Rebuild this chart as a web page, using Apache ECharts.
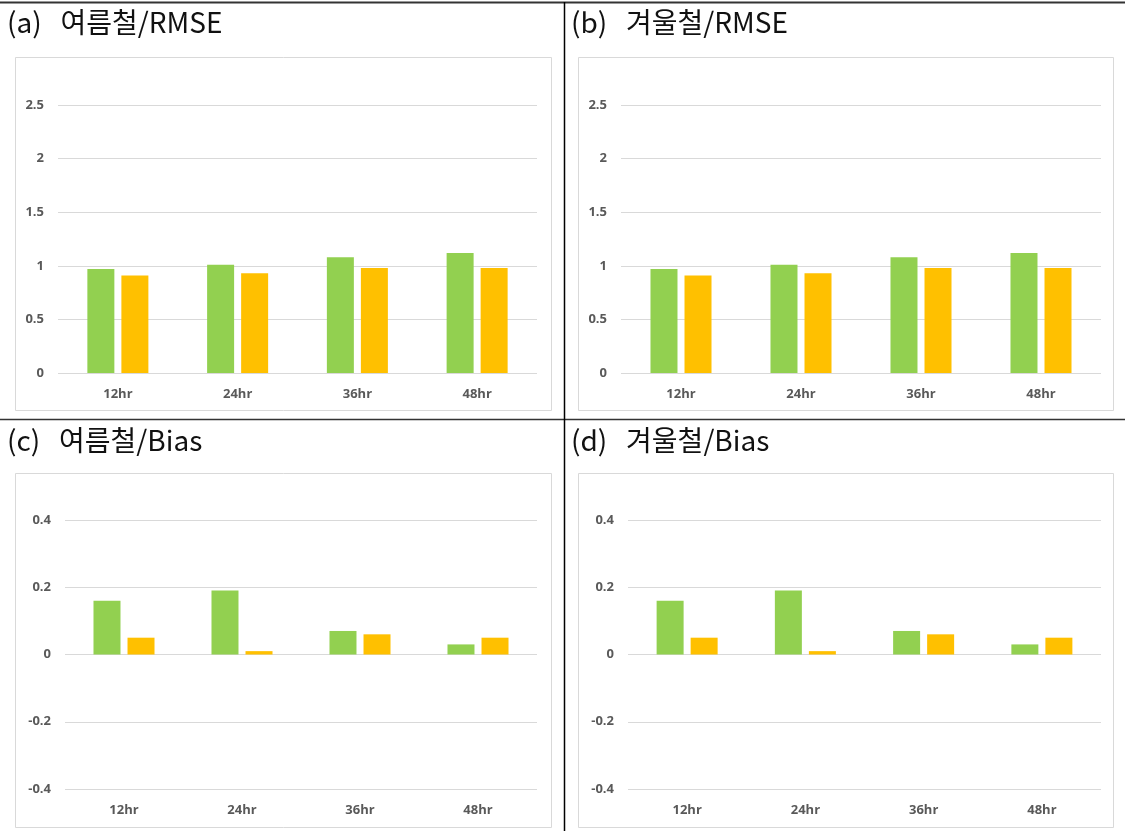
<!DOCTYPE html>
<html>
<head>
<meta charset="utf-8">
<title>RMSE / Bias</title>
<script src="https://cdn.jsdelivr.net/npm/echarts@6/dist/echarts.min.js"></script>
<style>
  html, body { margin: 0; padding: 0; background: #fff; }
  #chart { width: 1125px; height: 831px; }
</style>
</head>
<body>
<div id="chart"></div>
<script>
// 예보 시간
const hours = ['12hr', '24hr', '36hr', '48hr'];

// RMSE (여름철 / 겨울철 동일)
const rmseGreenSummer = [0.97, 1.01, 1.08, 1.12];
const rmseOrangeSummer = [0.91, 0.93, 0.98, 0.98];
const rmseGreenWinter = [0.97, 1.01, 1.08, 1.12];
const rmseOrangeWinter = [0.91, 0.93, 0.98, 0.98];

// Bias
const biasGreenSummer = [0.16, 0.19, 0.07, 0.03];
const biasOrangeSummer = [0.05, 0.01, 0.06, 0.05];
const biasGreenWinter = [0.16, 0.19, 0.07, 0.03];
const biasOrangeWinter = [0.05, 0.01, 0.06, 0.05];

const panelTitles = ['(a)   여름철/RMSE', '(b)   겨울철/RMSE', '(c)   여름철/Bias', '(d)   겨울철/Bias'];

const GREEN = '#92D050';
const ORANGE = '#FFC000';
const GRID_LINE = '#D9D9D9';
const LABEL = '#595959';

const chart = echarts.init(document.getElementById('chart'));

const grids = [
  { left: 58, right: 588, top: 105, bottom: 458 },
  { left: 621, right: 24, top: 105, bottom: 458 },
  { left: 65, right: 588, top: 520, bottom: 42 },
  { left: 628, right: 24, top: 520, bottom: 42 }
];

const yRanges = [
  { min: 0, max: 2.5, interval: 0.5 },
  { min: 0, max: 2.5, interval: 0.5 },
  { min: -0.4, max: 0.4, interval: 0.2 },
  { min: -0.4, max: 0.4, interval: 0.2 }
];

const seriesData = [
  [rmseGreenSummer, rmseOrangeSummer],
  [rmseGreenWinter, rmseOrangeWinter],
  [biasGreenSummer, biasOrangeSummer],
  [biasGreenWinter, biasOrangeWinter]
];

const xAxes = grids.map((g, i) => ({
  type: 'category', gridIndex: i, data: hours,
  axisLine: { show: false }, axisTick: { show: false },
  axisLabel: { color: LABEL, fontSize: 13, fontWeight: 'bold', margin: 15, fontFamily: 'Open Sans' }
}));

const yAxes = yRanges.map((r, i) => ({
  type: 'value', gridIndex: i, min: r.min, max: r.max, interval: r.interval,
  axisLine: { show: false }, axisTick: { show: false },
  axisLabel: { color: LABEL, fontSize: 13, fontWeight: 'bold', margin: 14, fontFamily: 'Open Sans' },
  splitLine: { lineStyle: { color: GRID_LINE, width: 1 } }
}));

const series = [];
seriesData.forEach((pair, i) => {
  series.push({
    type: 'bar', xAxisIndex: i, yAxisIndex: i, data: pair[0],
    barWidth: 27, barGap: '26%', itemStyle: { color: GREEN }
  });
  series.push({
    type: 'bar', xAxisIndex: i, yAxisIndex: i, data: pair[1],
    barWidth: 27, barGap: '26%', itemStyle: { color: ORANGE }
  });
});

// 표 테두리와 차트 영역 틀
const frameStyle = { fill: '#fff', stroke: GRID_LINE, lineWidth: 1 };
const graphic = [
  { type: 'rect', z: -10, shape: { x: 15.5, y: 57.5, width: 536, height: 353 }, style: frameStyle },
  { type: 'rect', z: -10, shape: { x: 578.5, y: 57.5, width: 535, height: 353 }, style: frameStyle },
  { type: 'rect', z: -10, shape: { x: 15.5, y: 473.5, width: 536, height: 354 }, style: frameStyle },
  { type: 'rect', z: -10, shape: { x: 578.5, y: 473.5, width: 535, height: 354 }, style: frameStyle },
  { type: 'line', shape: { x1: 0, y1: 2.5, x2: 1125, y2: 2.5 }, style: { stroke: '#333', lineWidth: 2 } },
  { type: 'line', shape: { x1: 0, y1: 419.5, x2: 1125, y2: 419.5 }, style: { stroke: '#333', lineWidth: 1.5 } },
  { type: 'line', shape: { x1: 564.5, y1: 2, x2: 564.5, y2: 831 }, style: { stroke: '#000', lineWidth: 1.5 } }
];

const titles = panelTitles.map((t, i) => ({
  text: t,
  padding: 0,
  left: i % 2 === 0 ? 7 : 571,
  top: i < 2 ? 8 : 426,
  textStyle: { fontSize: 28, fontWeight: 'normal', color: '#111', fontFamily: 'Noto Sans CJK KR' }
}));

chart.setOption({
  animation: false,
  title: titles,
  grid: grids,
  xAxis: xAxes,
  yAxis: yAxes,
  series: series,
  graphic: graphic
});
</script>
</body>
</html>
